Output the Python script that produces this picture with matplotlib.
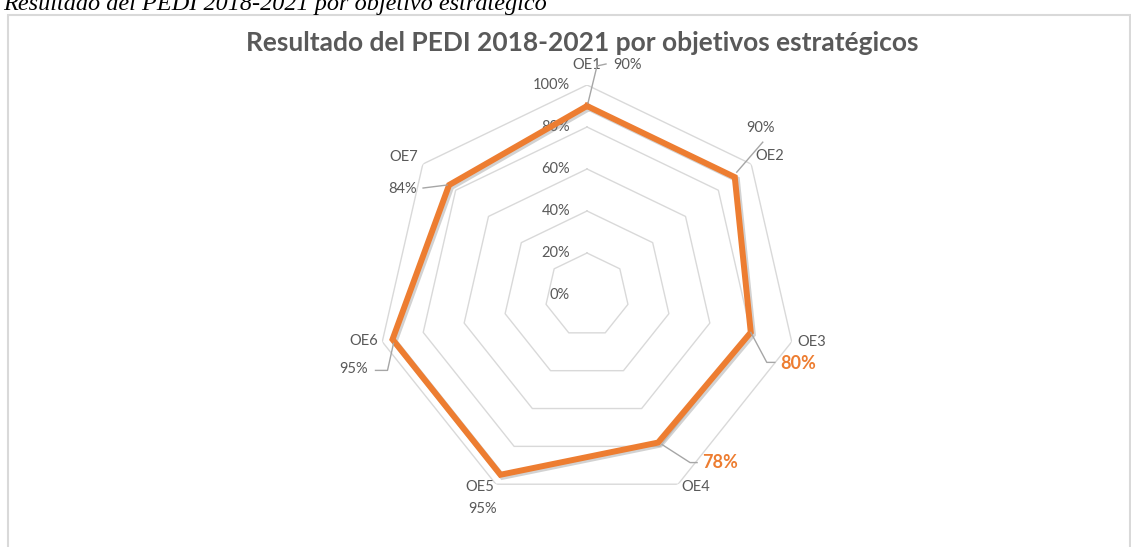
import numpy as np
import matplotlib
matplotlib.use('Agg')
from matplotlib import pyplot as plt
from matplotlib.lines import Line2D
from matplotlib.patches import Rectangle
from matplotlib.transforms import IdentityTransform
import matplotlib.patheffects as pe

categories = ["OE1", "OE2", "OE3", "OE4", "OE5", "OE6", "OE7"]
values = [0.90, 0.90, 0.80, 0.78, 0.95, 0.95, 0.84]
ring_levels = [0.2, 0.4, 0.6, 0.8, 1.0]
tick_levels = [0.0, 0.2, 0.4, 0.6, 0.8, 1.0]
tick_labels = ["0%", "20%", "40%", "60%", "80%", "100%"]
highlight = ["OE3", "OE4"]

# label offsets in pixels from each point (x right, y down): name, value, leader
name_off = [(0, -41), (35, -21), (61, 10), (38, 44), (-21, 12), (-29, 2), (-45, -28)]
value_off = [(41, -41), (26, -49), (47, 31), (62, 20), (-18, 34), (-39, 30), (-47, 4)]
leaders = [
    [(1, -3), (10, -40), (19, -42)],
    [(2, -5), (28, -35)],
    [(0, 0), (16, 30), (24, 30)],
    [(4, 2), (32, 20), (39, 20)],
    [],
    [(1, 4), (-5, 31), (-17, 31)],
    [(-2, 0), (-26, 3)],
]

GRID = "#D9D9D9"
TEXT = "#595959"
ORANGE = "#ED7D31"
plt.rcParams['font.family'] = ['Lato', 'DejaVu Sans']

W, H = 1131, 547
fig = plt.figure(figsize=(W / 100, H / 100), dpi=100)

# chart frame
fig.add_artist(Rectangle((8 / W, -0.05), 1122 / W, 1.05 - 15 / H, transform=fig.transFigure,
                         fill=False, edgecolor=GRID, lw=1.5))

fig.text(3 / W, 1 - 10 / H, "Resultado del PEDI 2018-2021 por objetivo estratégico",
         family='Liberation Serif', style='italic', fontsize=17.5, va='baseline', ha='left', color='black')
fig.text(582 / W, 1 - 43 / H, "Resultado del PEDI 2018-2021 por objetivos estratégicos",
         fontsize=19, fontweight='bold', color=TEXT, ha='center', va='center')

cx, cy, R = 587, 295, 210
ax = fig.add_axes([(cx - R) / W, (H - cy - R) / H, 2 * R / W, 2 * R / H], projection='polar')
ax.set_theta_zero_location('N')
ax.set_theta_direction(-1)
ax.set_ylim(0, 1)
ax.grid(False)
ax.set_xticks([])
ax.set_yticks([])
ax.spines['polar'].set_visible(False)
ax.patch.set_alpha(0)

theta = np.arange(len(categories)) * 2 * np.pi / len(categories)
theta_c = np.append(theta, theta[0])

for lv in ring_levels:
    ax.plot(theta_c, [lv] * len(theta_c), color=GRID, lw=1, zorder=1)

for lv, lab in zip(tick_levels, tick_labels):
    ax.annotate(lab, xy=(0, lv), xytext=(-17, 0), textcoords='offset pixels',
                ha='right', va='center', fontsize=10.5, color=TEXT)

vals_c = np.append(values, values[0])
ax.plot(theta_c, vals_c, color=ORANGE, lw=4.3, solid_joinstyle='miter', zorder=3,
        path_effects=[pe.SimpleLineShadow(offset=(1.5, -1.5), shadow_color='gray', alpha=0.35),
                      pe.Normal()])

for i, cat in enumerate(categories):
    hi = cat in highlight
    ax.annotate(cat, xy=(theta[i], values[i]), xytext=(name_off[i][0], -name_off[i][1]),
                textcoords='offset pixels', ha='center', va='center', fontsize=10.5, color=TEXT)
    ax.annotate(f"{int(round(values[i] * 100))}%", xy=(theta[i], values[i]),
                xytext=(value_off[i][0], -value_off[i][1]), textcoords='offset pixels',
                ha='center', va='center', fontsize=13 if hi else 10.5,
                fontweight='bold' if hi else 'normal', color=ORANGE if hi else TEXT)
    if leaders[i]:
        px, py = ax.transData.transform((theta[i], values[i]))
        xs = [px + d[0] for d in leaders[i]]
        ys = [py - d[1] for d in leaders[i]]
        fig.add_artist(Line2D(xs, ys, transform=IdentityTransform(), color="#A6A6A6", lw=1))

fig.savefig("out.png", dpi=100)
